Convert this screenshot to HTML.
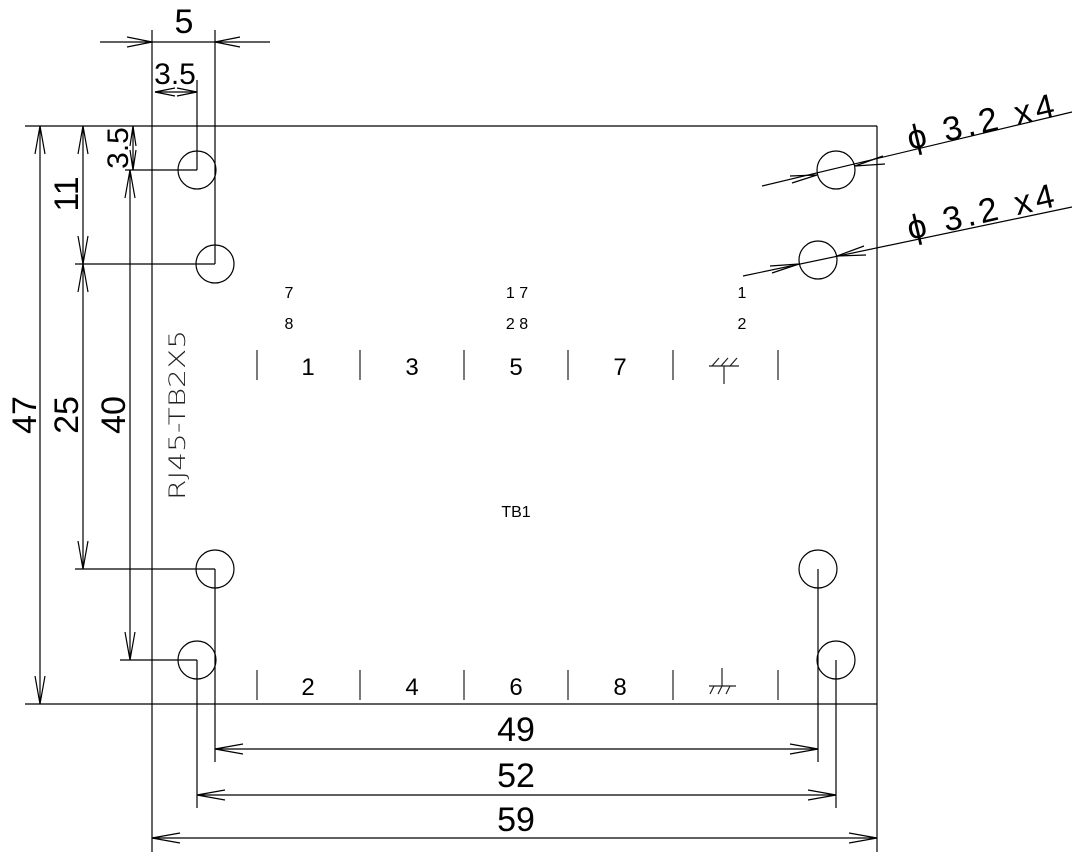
<!DOCTYPE html>
<html><head><meta charset="utf-8"><style>
html,body{margin:0;padding:0;background:#fff;}
svg{display:block;}
text{font-family:"Liberation Sans",sans-serif;fill:#000;}
.t{font-family:"DejaVu Sans","Liberation Sans",sans-serif;font-weight:200;fill:#222;}
</style></head><body>
<svg width="1081" height="862" viewBox="0 0 1081 862" xmlns="http://www.w3.org/2000/svg">
<g stroke="#000" stroke-width="1.2" fill="none">
<line x1="25" y1="126" x2="877" y2="126"/>
<line x1="25" y1="704" x2="877" y2="704"/>
<line x1="877" y1="126" x2="877" y2="852"/>
<line x1="152" y1="30" x2="152" y2="852"/>
<circle cx="197" cy="170" r="19"/><circle cx="215" cy="264" r="19"/>
<circle cx="215" cy="569" r="19"/><circle cx="197" cy="660" r="19"/>
<circle cx="836" cy="170" r="19"/><circle cx="818" cy="260" r="19"/>
<circle cx="818" cy="569" r="19"/><circle cx="836" cy="660" r="19"/>
<line x1="100" y1="42" x2="270" y2="42"/>
<line x1="215" y1="30" x2="215" y2="264"/>
<line x1="155" y1="92" x2="197" y2="92"/>
<line x1="197" y1="80" x2="197" y2="170"/>
<path d="M127 37 L152 42 L127 47 M240 37 L215 42 L240 47"/>
<path d="M175 88 L155 92 L175 96 M177 88 L197 92 L177 96"/>
<line x1="40" y1="126" x2="40" y2="704"/>
<line x1="83" y1="126" x2="83" y2="569"/>
<line x1="130" y1="170" x2="130" y2="660"/>
<line x1="133" y1="126" x2="133" y2="170"/>
<line x1="75" y1="264" x2="215" y2="264"/>
<line x1="75" y1="569" x2="215" y2="569"/>
<line x1="120" y1="660" x2="197" y2="660"/>
<line x1="125" y1="170" x2="197" y2="170"/>
<path d="M35 154 L40 126 L45 154 M35 676 L40 704 L45 676"/>
<path d="M78 154 L83 126 L88 154 M78 236 L83 264 L88 236 M78 292 L83 264 L88 292 M78 541 L83 569 L88 541"/>
<path d="M125 198 L130 170 L135 198 M125 632 L130 660 L135 632"/>
<path d="M130 146 L133 126 L136 146 M130 150 L133 170 L136 150"/>
<line x1="215" y1="569" x2="215" y2="762"/>
<line x1="818" y1="569" x2="818" y2="762"/>
<line x1="197" y1="660" x2="197" y2="808"/>
<line x1="836" y1="660" x2="836" y2="808"/>
<line x1="215" y1="749" x2="818" y2="749"/>
<line x1="197" y1="795" x2="836" y2="795"/>
<line x1="152" y1="838" x2="877" y2="838"/>
<path d="M243 744 L215 749 L243 754 M790 744 L818 749 L790 754"/>
<path d="M225 790 L197 795 L225 800 M808 790 L836 795 L808 800"/>
<path d="M180 833 L152 838 L180 843 M849 833 L877 838 L849 843"/>
<line x1="762" y1="186" x2="1072" y2="112"/>
<line x1="743" y1="276" x2="1072" y2="207"/>
<path d="M790 176 L817 175 L792 183 M883 156 L855 166 L885 164"/>
<path d="M770 266 L799 264 L772 273 M864 246 L837 256 L866 255"/>
<g stroke="#222">
<line x1="257" y1="350" x2="257" y2="380"/><line x1="360" y1="350" x2="360" y2="380"/>
<line x1="464" y1="350" x2="464" y2="380"/><line x1="568" y1="350" x2="568" y2="380"/>
<line x1="778" y1="350" x2="778" y2="380"/>
<line x1="257" y1="670" x2="257" y2="700"/><line x1="360" y1="670" x2="360" y2="700"/>
<line x1="464" y1="670" x2="464" y2="700"/><line x1="568" y1="670" x2="568" y2="700"/>
<line x1="673" y1="670" x2="673" y2="700"/><line x1="778" y1="670" x2="778" y2="700"/>
<line x1="673" y1="350" x2="673" y2="380"/>
<line x1="724" y1="366" x2="724" y2="384"/><line x1="709" y1="366" x2="739" y2="366"/>
<path d="M712 366 L719 358 M721 366 L728 358 M730 366 L737 358"/>
<line x1="722" y1="668" x2="722" y2="686"/><line x1="709" y1="686" x2="736" y2="686"/>
<path d="M710 694 L714 686 M718 694 L722 686 M726 694 L730 686"/>
</g>
</g>
<g font-size="34">
<text x="184" y="33" text-anchor="middle">5</text>
<text x="175" y="84" text-anchor="middle" font-size="30">3.5</text>
<text x="516" y="741" text-anchor="middle">49</text>
<text x="516" y="787" text-anchor="middle">52</text>
<text x="516" y="831" text-anchor="middle">59</text>
<text transform="translate(36,415) rotate(-90)" text-anchor="middle">47</text>
<text transform="translate(78,194) rotate(-90)" text-anchor="middle">11</text>
<text transform="translate(78,415) rotate(-90)" text-anchor="middle">25</text>
<text transform="translate(125,415) rotate(-90)" text-anchor="middle">40</text>
<text transform="translate(128,148) rotate(-90)" text-anchor="middle" font-size="30">3.5</text>
<text transform="translate(910,150) rotate(-13)" font-size="34" textLength="150" lengthAdjust="spacing">ϕ 3.2 x4</text>
<text transform="translate(910,240) rotate(-13)" font-size="34" textLength="150" lengthAdjust="spacing">ϕ 3.2 x4</text>
</g>
<g class="t" font-size="24" text-anchor="middle">
<text x="308" y="375">1</text><text x="412" y="375">3</text><text x="516" y="375">5</text><text x="620" y="375">7</text>
<text x="308" y="695">2</text><text x="412" y="695">4</text><text x="516" y="695">6</text><text x="620" y="695">8</text>
</g>
<g class="t" font-size="16" text-anchor="middle">
<text x="289" y="298">7</text><text x="289" y="329">8</text>
<text x="517" y="298">1 7</text><text x="517" y="329">2 8</text>
<text x="742" y="298">1</text><text x="742" y="329">2</text>
<text x="516" y="517">TB1</text>
</g>
<text class="t" transform="translate(185,500) rotate(-90)" font-size="22" textLength="170" lengthAdjust="spacingAndGlyphs">RJ45-TB2X5</text>
</svg>
</body></html>
